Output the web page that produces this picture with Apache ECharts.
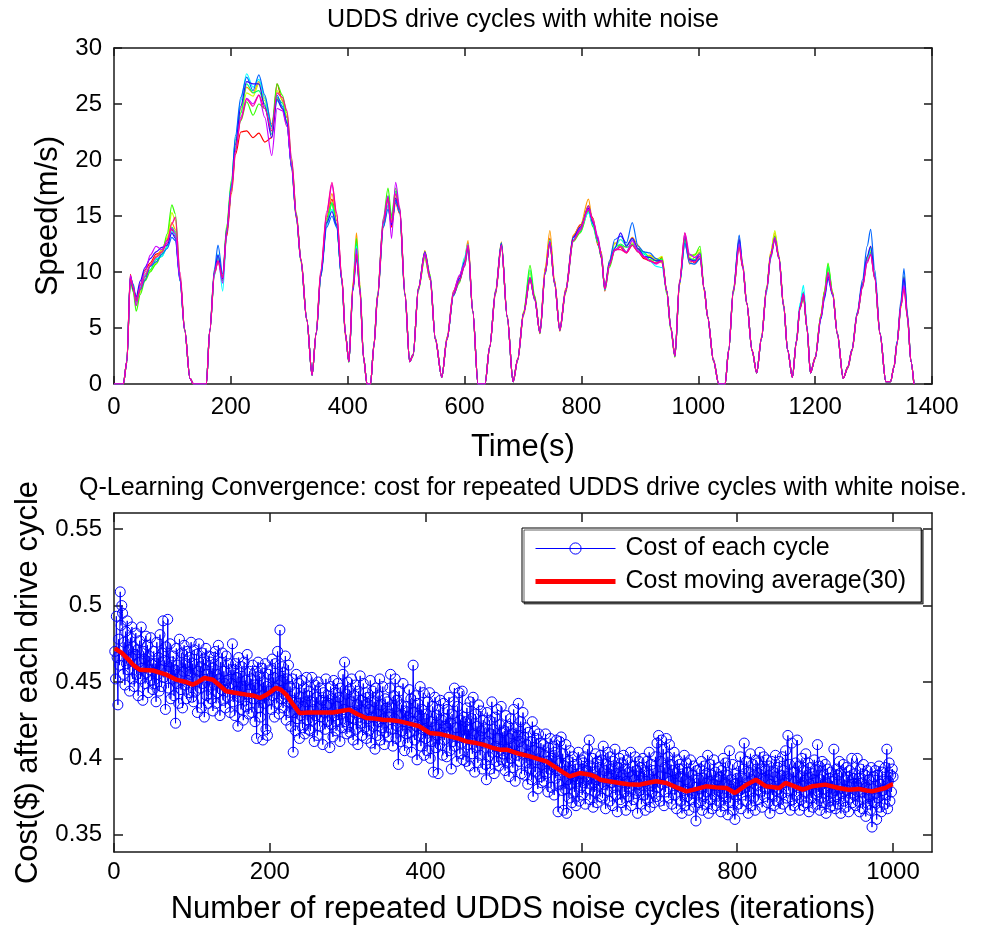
<!DOCTYPE html>
<html><head><meta charset="utf-8">
<script src="https://cdn.jsdelivr.net/npm/echarts@6/dist/echarts.min.js"></script>
<style>html,body{margin:0;padding:0;background:#fff}#c{width:994px;height:928px}</style>
</head><body><div id="c"></div>
<script>
// ---------- Top chart: UDDS speed traces (time in s, speed in m/s) ----------
const timeS = [0,16,22,28,33,38,45,53,62,72,82,91,99,105,113,121,130,136,158,164,
172,178,186,193,201,208,217,227,238,248,258,270,279,288,296,304,312,320,330,339,
346,354,364,373,381,390,396,402,409,415,421,427,433,439,445,451,461,469,475,482,
489,498,506,512,521,532,541,550,561,570,581,591,600,606,614,623,635,643,653,663,
673,683,691,701,712,720,729,738,746,754,763,773,786,798,812,820,828,834,840,848,
857,867,877,887,897,907,917,928,938,946,953,960,968,977,985,994,1003,1010,1016,1026,
1035,1046,1052,1060,1070,1076,1083,1092,1100,1108,1117,1124,1131,1138,1146,1153,1161,1168,1174,1180,
1186,1192,1200,1210,1216,1222,1230,1238,1248,1256,1263,1272,1281,1289,1295,1302,1311,1321,1329,1335,
1340,1347,1352,1358,1364,1369];

const speed1 = [0,0,2.1,9.8,8.5,7.6,8.9,10.2,10.8,11.6,11.8,12.9,13.8,13.2,9.5,4.9,0.5,0,0,4.7,
9.8,11,9.6,13.2,17,20.5,22.5,22.6,22,22.4,21.6,22,26.8,25.3,23.8,19.2,14.8,11.2,5.8,0.8,
4.4,9.6,14.8,16.5,14.6,9.2,4.3,2.1,8.8,12.2,8.2,2.3,0,0,3.4,7.6,14,16,14,16.2,
15.2,7.8,2,2.5,8.6,11.3,9.3,4.1,0.6,4.2,8.3,9.6,11,12.6,6.4,0,0,3.4,8,12.4,
6.1,0.2,2.3,6.4,9.2,7.8,4.5,10.3,13,9.2,4.9,8.5,13.2,14.2,15.5,14.8,12.4,11.8,8.3,10.6,
12,12.2,11.7,12.4,11.8,11.2,11,10.8,11.3,8.2,5.1,2.6,9.2,12.5,11.2,10.8,11.2,8.6,5.9,2.2,
0,0,3.1,8.2,12.4,10.4,7.1,3.1,1,4.1,8.4,11.6,13.2,11.2,6.9,3,0.6,3.7,6.7,7.8,
5.1,1,2.4,6.1,8.2,9.8,8.1,4.4,0.5,1.6,3.1,6.3,9,11.3,11.8,9.4,4.4,0.2,0.2,1.6,
3.7,7.2,9,5.8,2,0];
const speed2 = [0,0,2,9.2,8.3,7,8.2,9.8,10.6,11.4,12,13,14.4,13.8,9.4,4.8,0.5,0,0,4.9,
10.2,11.5,9.2,14,17.8,21.5,24.6,26.5,26,27,25.6,23.2,25.5,24.6,23,19.8,15.2,11,5.6,0.8,
4.6,10,15,17,15,9.5,4.6,2,9,13.5,8.9,2.5,0,0,3.6,7.9,14.5,16.6,14.8,16.6,
15.3,8.1,2,2.7,8.3,11.9,9.7,3.9,0.6,3.9,8.2,9.1,11.2,12.8,6.6,0,0,3.2,8.4,12.7,
6.1,0.2,2.1,6.1,9.4,7.5,4.7,10.4,13.7,9.3,4.7,8.1,13.3,14.1,16.5,14.2,13,11.2,8.6,11,
12.6,12.2,12.3,13.1,12.4,11.3,11.5,11.2,10.8,8.4,4.9,2.4,8.8,13,10.7,11.3,11.8,8.3,6.1,2,
0,0,2.9,8.5,13,10.8,7.3,2.9,1,4.2,8.7,11.8,13.5,11.5,7.2,3,0.6,3.9,7,8.2,
4.9,1,2.2,6.2,8.3,10.3,8.2,4.6,0.5,1.4,2.9,6.1,8.6,11.2,12.3,9.6,4.6,0.2,0.2,1.5,
3.5,6.8,9.6,6.2,2,0];
const speed3 = [0,0,1.9,9.4,8.9,7.1,8.3,9.4,10.1,10.8,11.9,13.1,15.3,14.6,9.2,4.7,0.5,0,0,4.8,
10.1,11.2,9.5,13.6,17.2,21.2,24.2,26,25.7,26.8,25.3,22.9,26.2,25.4,23.9,19.6,14.9,10.8,5.7,0.8,
4.5,9.9,14.3,16.2,14.1,9.4,4.4,2,8.4,12.4,8.5,2.4,0,0,3.5,7.7,14.6,16.4,14.7,16.9,
15.7,8.2,2,2.6,8.4,11.2,9.4,4.1,0.6,4.1,7.9,9.2,10.6,12.1,6.4,0,0,3.3,8.3,12.3,
6,0.2,2.2,6.5,9.9,7.7,4.6,10.1,12.6,8.9,4.8,8.4,12.8,14,15.9,14.4,12.9,11.7,8.4,10.9,
12.5,12.9,12.4,12.6,12.3,11.7,11.4,11.1,11.4,8.3,4.9,2.5,8.9,12.7,11.3,11.6,12,8.4,6,2.1,
0,0,3,8.4,12.6,10.6,7.3,3,1,4,8.6,11.7,13.7,11.4,7.1,3,0.6,3.8,6.9,8.1,
5,1,2.3,6.1,8.3,10.6,8.2,4.5,0.5,1.5,3,6.3,8.9,11.1,11.9,9.5,4.5,0.2,0.2,1.5,
3.6,7.1,9.1,6.1,2,0];
const speed4 = [0,0,2,9.3,8.2,6.5,8,9.2,10,10.7,11.6,13.4,16,15.2,9.6,4.9,0.5,0,0,4.8,
9.9,11,9.4,14.2,18.2,21.8,23.5,25.2,24,25,24.6,23,26.8,25.8,24.2,20,15.3,11.1,5.8,0.8,
4.6,9.7,14.4,16.1,14.2,9.4,4.5,1.9,8.7,13,8.6,2.5,0,0,3.5,8,14.8,17.5,15,17.5,
15.3,8,2,2.5,8.6,11.8,9.8,4,0.6,4,8,9,11,12.4,6.5,0,0,3.3,8.1,12.6,
5.9,0.2,2.2,6.4,10.6,7.9,4.5,9.8,12.9,9.1,4.8,8.2,12.7,13.5,15.4,14,12.6,11.3,8.4,10.4,
11.9,12.4,11.8,12.5,12,11.8,11.1,11,11.2,8,4.8,2.4,9.1,12.9,11.5,11.5,12.3,8.5,6,2.1,
0,0,3,8.1,12.5,10.5,7.2,3,1,4,8.5,11.4,13.2,11.3,7,3,0.6,3.8,6.8,7.7,
5,1,2.3,6.2,8.3,10.8,8.1,4.5,0.5,1.5,3,6.2,8.7,11.2,12.2,9.5,4.5,0.2,0.2,1.5,
3.6,7,9.6,6,2,0];
const speed5 = [0,0,2,9.6,8.6,7.3,8.6,9.6,10.2,11.1,11.4,12.3,14,13.6,9.3,4.8,0.5,0,0,4.8,
10,11.4,9.2,13.7,17.6,21,24.2,26.8,26,26.2,25,22.3,25.6,25.1,23.4,19.4,15,11,5.7,0.8,
4.5,9.8,14.6,16.2,14.2,9.3,4.5,2,8.4,12.6,8.4,2.4,0,0,3.5,7.8,14.2,16.8,14.8,17.2,
15.6,8,2,2.6,8.4,11.5,9.5,4,0.6,4,8.1,9.4,10.9,12.2,6.5,0,0,3.3,8.2,12.4,
6,0.2,2.2,6.3,10.2,7.6,4.6,10,12.7,9,4.8,8.3,12.9,13.6,15.6,14.1,12.7,11.4,8.5,10.7,
12.2,12.5,12.2,12.4,12.1,11.6,11.3,11,11.1,8.3,5,2.5,9,12.9,11.2,11.1,11.7,8.5,6,2.1,
0,0,3,8.3,12.6,10.5,7.2,3,1,4,8.5,11.5,13,11.3,7,3,0.6,3.8,6.8,8.2,
5,1,2.3,6,8,10.5,8,4.5,0.5,1.5,3,6.2,8.8,11,11.7,9.5,4.5,0.2,0.2,1.5,
3.6,7,9.4,6,2,0];
const speed6 = [0,0,2,9.4,8.7,7.4,8.7,9.7,10.5,11.2,11.4,12.2,13.6,13.3,9.2,4.8,0.5,0,0,4.8,
9.7,11.6,8.3,13.5,17.8,22,25.3,27.7,26.5,27.2,25.5,22.8,25.3,24.8,23.2,19.3,15,11,5.7,0.8,
4.5,9.8,14.2,15.6,14.1,9.3,4.5,2,8.5,12.3,8.5,2.4,0,0,3.5,7.8,14.2,16,14.3,16.4,
15.4,8,2,2.6,8.5,11.4,9.4,4,0.6,4,7.9,9.3,11.3,12.5,6.5,0,0,3.3,8.3,12.5,
6,0.2,2.2,6.3,9.4,7.5,4.6,9.9,12.8,9,4.8,8.3,12.9,13.9,15.3,14.2,12.8,11.4,8.4,10.7,
12.2,12.9,12.4,12.9,11.8,11.7,11,10.5,10.4,8.3,5,2.5,9,12.5,11,11,11.4,8.5,6,2.1,
0,0,3,8.3,12.9,10.5,7.2,3,1,4,8.2,11.2,12.9,11.2,7,3,0.6,3.9,7.2,8.8,
5.2,1,2.3,6,8,9.8,8,4.5,0.5,1.5,3,6.2,8.7,10.9,12.1,9.5,4.5,0.2,0.2,1.5,
3.6,7,9.3,6,2,0];
const speed7 = [0,0,2,9.5,8.9,7.5,8.4,9.3,10.5,10.9,11.6,12.1,13.1,12.8,9.2,4.8,0.5,0,0,4.9,
10.3,12.4,9.8,13.9,17.8,22.2,25.6,27.4,26.2,27.6,25.8,23,25.8,24.8,23.3,19.3,14.9,11,5.7,0.8,
4.5,9.6,14,15,14,9.2,4.5,2,8.3,11.2,8.3,2.4,0,0,3.5,7.8,14,15.6,14.3,16.4,
15.3,7.9,2,2.6,8.5,11.7,9.6,4,0.6,4,7.9,9.2,10.5,12.1,6.5,0,0,3.3,8.3,12.6,
6,0.2,2.2,6.3,9.4,7.6,4.6,10,12.6,9,4.8,8.3,13.1,13.8,15.9,14.5,12.8,11.6,8.5,11,
12.9,13.2,12.6,14.4,12.3,11.8,11.7,11.2,10.9,8.3,5,2.5,9.1,12.6,10.8,10.7,11.2,8.6,6,2.1,
0,0,3,8.4,13.3,10.6,7.2,3,1,4,8.5,11.4,13,11.3,7,3,0.6,3.8,6.9,8.1,
5,1,2.3,5.8,7.6,9.4,7.9,4.5,0.5,1.5,3.1,6.4,9.3,12.3,13.8,10.2,4.6,0.2,0.2,1.5,
3.8,7.5,10.3,6.3,2,0];
const speed8 = [0,0,2,9.6,8.4,7.8,9.2,10.4,11.2,11.8,12.2,12.4,13.5,13,9.4,4.8,0.5,0,0,4.8,
10,11.5,9.4,13.5,17.4,21.4,24.8,27,26.8,26.8,24.8,22,25.4,24.6,23.3,19.4,15,11,5.7,0.8,
4.5,9.8,14.4,15.4,14.2,9.3,4.5,2,8.5,11.6,8.4,2.4,0,0,3.5,7.8,14.4,16.6,14.2,16.6,
15.6,8,2,2.6,8.5,11.8,9.5,4,0.6,4,8,9.4,10.9,12.3,6.5,0,0,3.3,8.2,12.5,
6,0.2,2.2,6.3,9.5,7.6,4.6,9.9,12.7,9,4.8,8.3,13.1,14,15.7,14.3,13,11.3,8.5,10.8,
12.1,13.5,12.3,13,12.1,11.4,11.3,11,11,8.3,5,2.5,9,13.2,11.1,11,11.6,8.5,6,2.1,
0,0,3,8.3,12.9,10.4,7.2,3,1,4,8.5,11.5,12.9,11.3,7,3,0.6,3.8,6.8,8,
5,1,2.3,5.9,7.8,9.6,8,4.5,0.5,1.5,3,6.2,8.9,11.4,12.3,9.6,4.5,0.2,0.2,1.5,
3.6,7,9.5,6,2,0];
const speed9 = [0,0,2,9.7,8.6,7,8.8,10,11.5,12.3,12,12.8,13.9,13.4,9.3,4.8,0.5,0,0,4.8,
10,11,9,13.7,17.4,20.8,23.8,25.5,25,25.8,23.8,20.4,24.6,24.4,23,19.5,15,11,5.7,0.8,
4.5,10,15.2,17.8,15.2,9.4,4.5,2,8.5,12.1,8.4,2.4,0,0,3.5,7.8,14.8,16.8,13,18,
15.8,8,2,2.6,8.5,11.7,9.6,4,0.6,4,8.2,9.7,10.7,12.4,6.5,0,0,3.3,8.2,12.4,
6,0.2,2.2,6.3,9.4,7.5,4.6,9.9,12.7,9,4.8,8.3,12.8,13.9,15.6,14.6,13.2,11.5,8.5,10.7,
11.9,12.3,11.8,12.8,11.9,11.4,11,10.7,11,8.3,5,2.5,9,13.5,11.6,11.3,11.6,8.5,6,2.1,
0,0,3,8.3,12.5,10.6,7.2,3,1,4,8.5,11.5,13.1,11.3,7,3,0.6,3.8,6.8,8.1,
5,1,2.3,6,8,9.9,8,4.5,0.5,1.5,3,6.2,8.7,11,11.5,9.5,4.5,0.2,0.2,1.5,
3.6,7,8.8,6,2,0];
const speed10 = [0,0,2,9.4,8.6,7.4,8.5,9.6,10.6,11.3,11.8,12.6,14.3,14.9,10,4.8,0.5,0,0,4.8,
9.9,11,9.5,13.6,17.4,20.8,23.6,25.4,24.8,25.8,24.6,22.6,26,25.6,24.4,20.2,15.2,11.1,5.7,0.8,
4.6,10.2,15.4,18,15.3,9.5,4.5,2,8.6,11.6,8.3,2.4,0,0,3.5,7.9,14.4,16.6,14.4,17,
15.6,8.1,2,2.6,8.5,11.5,9.4,4,0.6,4,8,9.2,10.5,12.4,6.5,0,0,3.3,8.2,12.4,
6,0.2,2.2,6.3,9.5,7.6,4.6,10,12.6,9,4.8,8.3,12.8,13.7,15.9,14.5,12.9,11.4,8.5,10.6,
12,12,11.7,12.4,11.8,11.3,11,10.8,11,8.3,5,2.5,9.2,13.5,11,10.9,11.4,8.5,6,2.1,
0,0,3,8.3,12.2,10.4,7.2,3,1,4,8.4,11.3,12.9,11.2,7,3,0.6,3.8,6.8,8,
5,1,2.3,6,8,10,8,4.5,0.5,1.5,3,6.2,8.6,10.8,11.6,9.4,4.5,0.2,0.2,1.5,
3.6,7,8.5,6,2,0];
const speedRuns = [speed1,speed2,speed3,speed4,speed5,speed6,speed7,speed8,speed9,speed10];

// tick labels
const xTicksTop = [0,200,400,600,800,1000,1200,1400];
const yTicksTop = [0,5,10,15,20,25,30];
const xTicksBottom = [0,200,400,600,800,1000];
const yTicksBottom = [0.35,0.4,0.45,0.5,0.55];

// ---------- Bottom chart: cost per iteration (1..1000) ----------
const costPerCycle = [
.470,.452,.493,.466,.435,.478,.461,.509,.487,.500,.495,.455,.476,.448,.483,.462,.490,.458,.471,.444,.479,.466,.486,.452,.473,
.447,.468,.482,.455,.471,.441,.463,.477,.452,.486,.459,.438,.470,.465,.449,.480,.456,.474,.443,.467,.458,.479,.451,.462,.445,
.470,.449,.462,.437,.476,.455,.466,.444,.481,.458,.447,.469,.490,.453,.464,.432,.473,.457,.491,.446,.460,.475,.439,.463,.452,
.467,.441,.458,.423,.472,.449,.461,.436,.478,.454,.445,.469,.433,.457,.474,.448,.462,.439,.470,.451,.443,.466,.455,.476,.440,
.462,.437,.471,.452,.444,.468,.430,.457,.475,.446,.460,.433,.469,.449,.465,.427,.458,.472,.441,.455,.436,.467,.448,.463,.439,
.459,.431,.466,.448,.470,.436,.455,.443,.474,.452,.428,.463,.445,.469,.438,.457,.449,.433,.467,.451,.440,.462,.446,.430,.458,
.449,.475,.437,.458,.428,.462,.444,.453,.421,.466,.440,.456,.432,.460,.447,.425,.463,.438,.451,.434,.468,.442,.429,.457,.445,
.452,.430,.461,.439,.448,.424,.457,.413,.446,.463,.433,.454,.427,.441,.459,.412,.450,.436,.462,.419,.447,.415,.455,.438,.444,
.458,.432,.465,.441,.453,.427,.462,.446,.436,.470,.448,.429,.484,.451,.439,.460,.433,.456,.442,.467,.425,.452,.437,.461,.430,
.447,.421,.438,.452,.404,.430,.443,.418,.455,.426,.436,.449,.413,.440,.428,.451,.420,.434,.446,.416,.437,.453,.425,.441,.419,
.444,.418,.437,.453,.425,.432,.411,.448,.428,.440,.415,.450,.433,.421,.446,.427,.438,.409,.443,.430,.419,.452,.435,.424,.441,
.436,.407,.447,.422,.439,.414,.451,.428,.443,.418,.434,.449,.425,.440,.411,.446,.429,.420,.455,.432,.463,.424,.442,.416,.450,
.421,.445,.417,.437,.452,.426,.412,.441,.430,.448,.419,.435,.409,.444,.427,.454,.423,.438,.415,.449,.431,.420,.443,.413,.436,
.440,.418,.432,.451,.410,.427,.444,.421,.437,.406,.446,.429,.415,.441,.424,.452,.412,.435,.420,.447,.426,.409,.439,.417,.433,
.437,.414,.429,.446,.455,.419,.433,.408,.441,.426,.452,.413,.438,.421,.396,.444,.428,.411,.435,.418,.449,.424,.405,.431,.416,
.434,.410,.427,.445,.417,.439,.404,.424,.461,.430,.412,.441,.421,.399,.436,.415,.428,.447,.408,.432,.419,.443,.402,.426,.413,
.429,.405,.437,.418,.443,.400,.424,.411,.434,.391,.420,.440,.407,.428,.415,.390,.432,.409,.438,.417,.425,.402,.436,.412,.421,
.426,.401,.432,.417,.440,.405,.423,.393,.429,.411,.437,.446,.408,.420,.398,.434,.414,.443,.403,.425,.410,.444,.399,.427,.415,
.424,.398,.433,.409,.419,.395,.437,.412,.426,.403,.440,.416,.391,.429,.407,.421,.397,.435,.414,.402,.431,.418,.393,.425,.410,
.420,.396,.386,.430,.411,.401,.425,.393,.416,.437,.404,.419,.390,.427,.408,.398,.432,.413,.395,.422,.406,.434,.399,.417,.403,
.418,.392,.428,.406,.397,.421,.388,.413,.426,.400,.416,.394,.432,.409,.385,.420,.402,.415,.436,.398,.411,.424,.390,.407,.430,
.414,.389,.420,.397,.409,.383,.417,.402,.393,.411,.386,.424,.375,.405,.418,.391,.413,.399,.380,.416,.404,.388,.410,.384,.396,
.409,.385,.402,.416,.390,.398,.378,.407,.393,.413,.381,.400,.395,.408,.376,.404,.387,.412,.392,.365,.383,.411,.397,.414,.379,
.403,.366,.395,.380,.409,.364,.386,.398,.374,.405,.383,.392,.371,.401,.388,.378,.396,.369,.393,.385,.404,.372,.390,.381,.399,
.376,.397,.384,.401,.370,.392,.380,.406,.387,.412,.373,.395,.383,.400,.368,.391,.378,.403,.386,.371,.398,.382,.394,.375,.402,
.399,.374,.408,.383,.392,.367,.396,.379,.404,.388,.372,.401,.384,.393,.369,.398,.381,.406,.376,.390,.365,.394,.385,.400,.373,
.397,.371,.389,.402,.378,.393,.366,.385,.399,.375,.391,.380,.404,.369,.388,.395,.373,.386,.401,.377,.392,.364,.383,.398,.379,
.394,.370,.387,.400,.376,.391,.366,.385,.398,.373,.389,.404,.368,.382,.396,.378,.392,.371,.386,.401,.375,.410,.381,.415,.388,
.372,.398,.412,.383,.406,.369,.394,.378,.413,.387,.401,.374,.409,.385,.396,.370,.392,.380,.404,.376,.390,.367,.399,.382,.393,
.396,.372,.388,.364,.393,.379,.402,.369,.386,.397,.375,.391,.366,.384,.399,.373,.389,.377,.395,.368,.381,.359,.392,.376,.387,
.371,.393,.380,.398,.366,.387,.375,.395,.370,.390,.378,.402,.364,.385,.396,.373,.389,.367,.383,.399,.376,.391,.369,.386,.379,
.394,.372,.388,.365,.392,.377,.400,.369,.384,.397,.374,.389,.363,.382,.405,.371,.386,.378,.396,.366,.383,.360,.390,.375,.387,
.370,.395,.379,.401,.367,.388,.376,.393,.410,.381,.372,.398,.384,.364,.391,.378,.403,.369,.386,.396,.374,.389,.366,.399,.382,
.397,.373,.390,.404,.378,.393,.368,.387,.401,.375,.392,.380,.399,.371,.386,.395,.364,.383,.398,.376,.391,.369,.388,.402,.379,
.372,.394,.380,.398,.367,.389,.377,.401,.370,.392,.384,.405,.374,.388,.415,.379,.396,.366,.386,.410,.373,.391,.369,.385,.397,
.376,.412,.381,.395,.366,.388,.373,.400,.384,.369,.392,.378,.403,.371,.387,.397,.365,.383,.394,.374,.390,.368,.386,.399,.377,
.392,.370,.409,.378,.395,.366,.386,.374,.398,.371,.389,.380,.396,.364,.384,.393,.372,.387,.368,.391,.377,.385,.369,.406,.379,
.367,.393,.375,.389,.370,.398,.380,.364,.391,.377,.396,.372,.386,.368,.394,.379,.388,.365,.392,.374,.383,.400,.371,.387,.376,
.390,.369,.383,.400,.372,.387,.365,.393,.378,.384,.367,.396,.374,.389,.362,.381,.392,.370,.386,.375,.366,.394,.355,.380,.388,
.371,.392,.377,.360,.389,.374,.395,.368,.383,.365,.391,.379,.386,.370,.394,.376,.406,.367,.385,.397,.372,.389,.378,.393,.388];

// moving average (30) read at key iterations
const maIter = [1,10,18,25,33,50,60,67,80,92,101,108,116,127,135,144,155,170,180,187,196,208,214,221,230,238,250,264,281,292,
302,312,324,335,345,357,367,384,392,405,418,431,442,452,465,474,485,495,504,520,534,545,555,568,576,585,598,611,618,624,
635,649,660,675,686,696,709,722,735,748,760,773,786,797,812,824,837,854,862,872,884,896,913,930,943,956,966,973,990,998,1000];
const maCost = [.472,.469,.465,.461,.458,.4575,.456,.4548,.4515,.450,.4482,.450,.4526,.4515,.448,.4439,.443,.4417,.441,.4395,.4417,.4461,.445,.4417,.4351,.4297,.430,.430,.430,.431,
.4319,.429,.4264,.426,.4253,.425,.4242,.4221,.421,.4166,.416,.4144,.413,.4111,.410,.409,.407,.4057,.4057,.403,.4013,.3995,.398,.3937,.391,.3882,.3904,.3893,.388,.386,
.385,.3839,.383,.3828,.384,.385,.3839,.381,.3784,.380,.3817,.381,.3806,.3773,.3828,.386,.3817,.3806,.3839,.382,.3795,.3817,.3828,.3806,.3795,.380,.379,.3784,.3806,.3828,.383];

// ---------- styles ----------
const runColors = ['#ff0000','#ff9900','#ccff00','#33ff00','#00ff66','#00ffff','#0066ff','#3300ff','#cc00ff','#ff0099'];
const FONT = '"Liberation Sans", Arial, Helvetica, sans-serif';
const AXL = {color:'#1a1a1a', width:1.5};
const plainNum = v => String(Math.round(v * 1000) / 1000);

function makeAxis(grid, pos, min, max, ticks, showLabel, tickLen, margin, extra) {
  const a = {
    type:'value', gridIndex:grid, position:pos, min:min, max:max,
    axisLine:{show:true, onZero:false, lineStyle:AXL},
    axisTick:{show:true, inside:true, length:tickLen, lineStyle:AXL, customValues:ticks},
    axisLabel:{show:showLabel, customValues:ticks, fontSize:24, color:'#000', fontFamily:FONT, margin:margin, formatter:plainNum},
    splitLine:{show:false}, minorTick:{show:false},
    nameMoveOverlap:false
  };
  return Object.assign(a, extra || {});
}

const chart = echarts.init(document.getElementById('c'), null, {renderer:'canvas'});

const series = speedRuns.map((arr, k) => ({
  type:'line', xAxisIndex:0, yAxisIndex:0,
  data: timeS.map((t, i) => [t, arr[i]]),
  symbol:'none', showSymbol:false, silent:true, animation:false,
  smooth:0.3, smoothMonotone:'x',
  lineStyle:{width:1.2, color:runColors[k]}, itemStyle:{color:runColors[k]}, z:2
}));
series.push({
  type:'line', name:'Cost of each cycle', xAxisIndex:2, yAxisIndex:2,
  data: costPerCycle.map((v, i) => [i + 1, v]),
  symbol:'circle', symbolSize:10, showSymbol:true, showAllSymbol:true, silent:true, animation:false,
  lineStyle:{color:'#0000ff', width:1},
  itemStyle:{color:'rgba(0,0,0,0)', borderColor:'#0000ff', borderWidth:1}, z:2
});
series.push({
  type:'line', name:'Cost moving average(30)', xAxisIndex:2, yAxisIndex:2,
  data: maIter.map((x, i) => [x, maCost[i]]),
  symbol:'none', showSymbol:false, silent:true, animation:false,
  lineStyle:{color:'#ff0000', width:4.5}, itemStyle:{color:'#ff0000'}, z:3
});

chart.setOption({
  animation:false,
  backgroundColor:'#fff',
  grid:[
    {left:114, top:48, width:818, height:336, outerBoundsMode:'none', containLabel:false},
    {left:114, top:513, width:818, height:339, outerBoundsMode:'none', containLabel:false}
  ],
  xAxis:[
    makeAxis(0,'bottom',0,1400,xTicksTop,true,8,11,{interval:200, name:'Time(s)', nameLocation:'middle', nameGap:48, nameTextStyle:{fontSize:31, color:'#000', fontFamily:FONT}}),
    makeAxis(0,'top',0,1400,xTicksTop,false,8,11,{interval:200}),
    makeAxis(1,'bottom',0,1050,xTicksBottom,true,9,8,{interval:200, name:'Number of repeated UDDS noise cycles (iterations)', nameLocation:'middle', nameGap:42, nameTextStyle:{fontSize:31, color:'#000', fontFamily:FONT}}),
    makeAxis(1,'top',0,1050,xTicksBottom,false,9,8,{interval:200})
  ],
  yAxis:[
    makeAxis(0,'left',0,30,yTicksTop,true,8,12,{interval:5, name:'Speed(m/s)', nameLocation:'middle', nameGap:50, nameTextStyle:{fontSize:31, color:'#000', fontFamily:FONT}}),
    makeAxis(0,'right',0,30,yTicksTop,false,8,12,{interval:5}),
    makeAxis(1,'left',0.3387,0.5606,yTicksBottom,true,9,12,{name:'Cost($) after each drive cycle', nameLocation:'middle', nameGap:70, nameTextStyle:{fontSize:31, color:'#000', fontFamily:FONT}}),
    makeAxis(1,'right',0.3387,0.5606,yTicksBottom,false,9,12,{})
  ],
  legend:{
    show:true, orient:'vertical', left:522, top:528,
    itemWidth:80, itemHeight:14, itemGap:8, padding:[8,15,8,13],
    backgroundColor:'#fff', borderColor:'#000', borderWidth:1,
    shadowColor:'rgba(0,0,0,0.6)', shadowOffsetX:2, shadowOffsetY:2, shadowBlur:0,
    selectedMode:false,
    textStyle:{fontSize:25, color:'#000', fontFamily:FONT, padding:[0,0,0,5]},
    data:[
      {name:'Cost of each cycle', itemStyle:{color:'rgba(0,0,0,0)', borderColor:'#0000ff', borderWidth:1}, lineStyle:{color:'#0000ff', width:1}},
      {name:'Cost moving average(30)', icon:'path://M0,0H80V5H0Z', itemStyle:{color:'#ff0000', borderWidth:0}}
    ]
  },
  graphic:[
    {type:'text', x:523, y:20, style:{text:'UDDS drive cycles with white noise', font:'25px ' + FONT, fill:'#000', align:'center', verticalAlign:'middle'}},
    {type:'text', x:523, y:488, style:{text:'Q-Learning Convergence: cost for repeated UDDS drive cycles with white noise.', font:'25px ' + FONT, fill:'#000', align:'center', verticalAlign:'middle'}}
  ],
  series: series
});
</script></body></html>
